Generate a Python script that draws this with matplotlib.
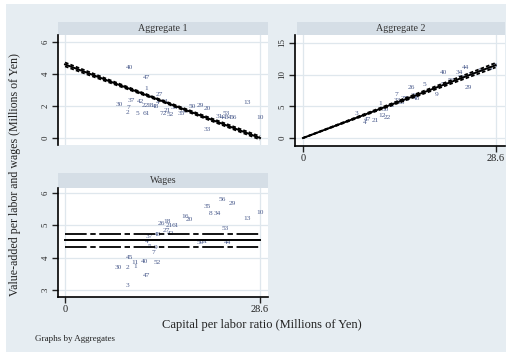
import matplotlib
matplotlib.use("Agg")
import matplotlib.pyplot as plt
from matplotlib.patches import Rectangle

plt.rcParams['font.family'] = ['Liberation Serif', 'DejaVu Serif']

# ---------------- data ----------------
panel_titles = ["Aggregate 1", "Aggregate 2", "Wages"]
x_ticks = [0, 28.6]
x_tick_labels = ["0", "28.6"]
y_ticks_1 = [0, 2, 4, 6]
y_ticks_2 = [0, 5, 10, 15]
y_ticks_3 = [3, 4, 5, 6]

agg1_labels = ["40", "47", "1", "27", "30", "37", "42", "22", "18", "48", "4", "2", "5",
               "61", "7", "72", "21", "52", "36", "9", "50", "29", "20", "13", "10", "33",
               "31", "44", "34", "56", "53", "35", "11"]
agg1_x = [9.5, 12.0, 11.9, 13.8, 7.9, 9.8, 11.0, 11.8, 12.5, 13.2, 13.6, 9.1, 10.6,
          12.0, 9.3, 14.4, 15.0, 15.4, 16.0, 17.6, 18.7, 19.8, 20.8, 26.7, 28.6, 20.8,
          22.6, 23.2, 24.0, 24.6, 23.6, 17.0, 14.6]
agg1_y = [4.4, 3.8, 3.1, 2.7, 2.1, 2.35, 2.3, 2.0, 2.05, 1.95, 2.2, 1.6, 1.55,
          1.55, 1.9, 1.55, 1.7, 1.45, 1.9, 1.65, 1.95, 2.0, 1.85, 2.2, 1.25, 0.5,
          1.35, 1.3, 1.25, 1.25, 1.5, 1.5, 2.3]

agg2_labels = ["40", "34", "44", "29", "26", "5", "7", "9", "3", "21", "22", "4", "47",
               "12", "30", "1", "18", "37", "42", "48", "50", "53", "56", "13", "10",
               "31", "35", "33", "27", "36"]
agg2_x = [20.9, 23.2, 24.2, 24.6, 16.1, 18.0, 13.9, 19.8, 8.0, 10.8, 12.6, 9.2, 9.6,
          11.8, 12.2, 11.5, 14.6, 15.5, 13.2, 16.8, 21.0, 22.0, 23.5, 25.0, 26.5,
          27.8, 28.4, 14.0, 15.0, 16.5]
agg2_y = [10.4, 10.3, 11.1, 7.9, 7.9, 8.4, 6.8, 6.8, 3.9, 2.8, 3.2, 2.4, 2.9,
          3.5, 4.5, 5.5, 5.6, 6.1, 5.2, 6.2, 8.5, 9.0, 9.5, 10.1, 10.6,
          11.0, 11.4, 5.9, 6.2, 6.7]

wage_labels = ["56", "29", "35", "8", "34", "13", "10", "53", "44", "50", "31", "16",
               "20", "26", "18", "21", "61", "27", "42", "48", "37", "4", "5", "9", "7",
               "45", "11", "40", "52", "30", "2", "1", "47", "3"]
wage_x = [23.0, 24.5, 20.8, 21.3, 22.4, 26.7, 28.6, 23.5, 23.9, 19.8, 20.4, 17.6,
          18.3, 14.2, 15.0, 15.3, 16.2, 14.8, 15.5, 13.5, 12.4, 12.0, 12.4, 13.3, 13.0,
          9.5, 10.2, 11.7, 13.5, 7.8, 9.2, 10.3, 12.0, 9.2]
wage_y = [5.79, 5.66, 5.57, 5.35, 5.35, 5.2, 5.4, 4.9, 4.45, 4.45, 4.5, 5.26,
          5.17, 5.05, 5.1, 5.0, 4.98, 4.85, 4.75, 4.7, 4.65, 4.5, 4.35, 4.3, 4.15,
          4.0, 3.85, 3.87, 3.84, 3.68, 3.7, 3.72, 3.46, 3.15]

# fitted lines and confidence bounds
fit1_x = [0, 7, 14, 21, 28.6]
fit1_y = [4.6, 3.47, 2.35, 1.22, 0.0]
fit1_lo = [4.48, 3.39, 2.3, 1.14, -0.1]
fit1_hi = [4.72, 3.55, 2.4, 1.3, 0.1]

fit2_x = [0, 28.6]
fit2_y = [0.0, 11.5]
fit2_lo = [0.0, 11.15]
fit2_hi = [0.0, 11.85]

fit3_x = [0, 28.6]
fit3_y = [4.53, 4.53]
fit3_lo = [4.33, 4.33]
fit3_hi = [4.74, 4.74]

# ---------------- figure ----------------
W, H = 510, 356
fig = plt.figure(figsize=(W / 100, H / 100), dpi=100)
fig.patch.set_facecolor("white")
bg = "#e6edf2"
strip_c = "#d5dee6"
grid_c = "#dfe7ed"
lab_c = "#4a5b8c"
fig.patches.append(Rectangle((6 / W, 1 - 352 / H), 500 / W, 348 / H,
                             transform=fig.transFigure, facecolor=bg, edgecolor="none",
                             zorder=-10))


def px_axes(x0, y0, x1, y1):
    ax = fig.add_axes([x0 / W, 1 - y1 / H, (x1 - x0) / W, (y1 - y0) / H])
    ax.set_zorder(5)
    return ax


def strip(x0, y0, x1, y1, text):
    fig.patches.append(Rectangle((x0 / W, 1 - y1 / H), (x1 - x0) / W, (y1 - y0) / H,
                                 transform=fig.transFigure, facecolor=strip_c,
                                 edgecolor="none", zorder=-5))
    fig.text((x0 + x1) / 2 / W, 1 - (y0 + y1) / 2 / H, text, ha="center", va="center",
             fontsize=7.2, color="#333333")


def style(ax, xlim, yticks, ylim, show_x):
    ax.set_facecolor("white")
    ax.set_xlim(*xlim)
    ax.set_ylim(*ylim)
    for s in ["top", "right"]:
        ax.spines[s].set_visible(False)
    ax.spines["left"].set_linewidth(1.2)
    ax.set_yticks(yticks)
    ax.set_yticklabels([str(t) for t in yticks], rotation=90, va="center", fontsize=6.3)
    ax.tick_params(axis="y", length=4, width=1, pad=2, colors="#222222")
    for t in yticks:
        ax.axhline(t, color=grid_c, lw=0.9, zorder=0)
    for t in x_ticks:
        ax.axvline(t, color=grid_c, lw=0.9, zorder=0)
    if show_x:
        ax.spines["bottom"].set_linewidth(1.2)
        ax.set_xticks(x_ticks)
        ax.set_xticklabels(x_tick_labels, fontsize=7.5)
        ax.tick_params(axis="x", length=4, width=1, pad=1.5, colors="#222222")
    else:
        ax.spines["bottom"].set_visible(False)
        ax.set_xticks([])


def draw(ax, labels, xs, ys, fx, fy, flo, fhi, ci_style):
    for l, x, y in zip(labels, xs, ys):
        ax.text(x, y, l, fontsize=5.3, color=lab_c, ha="center", va="center", zorder=3)
    ax.plot(fx, fy, color="black", lw=1.4, zorder=4)
    ax.plot(fx, flo, color="black", lw=1.3, zorder=4, linestyle=ci_style)
    ax.plot(fx, fhi, color="black", lw=1.3, zorder=4, linestyle=ci_style)


ax1 = px_axes(58, 35, 268, 145)
style(ax1, (-1.03, 29.77), y_ticks_1, (-0.44, 6.44), False)
strip(58, 22, 268, 35, panel_titles[0])
draw(ax1, agg1_labels, agg1_x, agg1_y, fit1_x, fit1_y, fit1_lo, fit1_hi, (0, (2, 1.2)))

ax2 = px_axes(295, 35, 505, 146)
style(ax2, (-1.18, 30.0), y_ticks_2, (-1.26, 16.26), True)
strip(297, 22, 505, 35, panel_titles[1])
draw(ax2, agg2_labels, agg2_x, agg2_y, fit2_x, fit2_y, fit2_lo, fit2_hi, (0, (2, 1.2)))

ax3 = px_axes(58, 188, 268, 297)
style(ax3, (-1.03, 29.77), y_ticks_3, (2.78, 6.15), True)
strip(58, 173, 268, 188, panel_titles[2])
draw(ax3, wage_labels, wage_x, wage_y, fit3_x, fit3_y, fit3_lo, fit3_hi, (0, (12, 2, 3, 2)))

fig.text(15 / W, 1 - 175 / H, "Value-added per labor and wages (Millions of Yen)",
         rotation=90, ha="center", va="center", fontsize=8.6, color="#222222")
fig.text(262 / W, 1 - 325 / H, "Capital per labor ratio (Millions of Yen)",
         ha="center", va="center", fontsize=9, color="#222222")
fig.text(35 / W, 1 - 339 / H, "Graphs by Aggregates", ha="left", va="center",
         fontsize=6.5, color="#222222")

fig.savefig("out.png", dpi=100, facecolor=fig.get_facecolor())
